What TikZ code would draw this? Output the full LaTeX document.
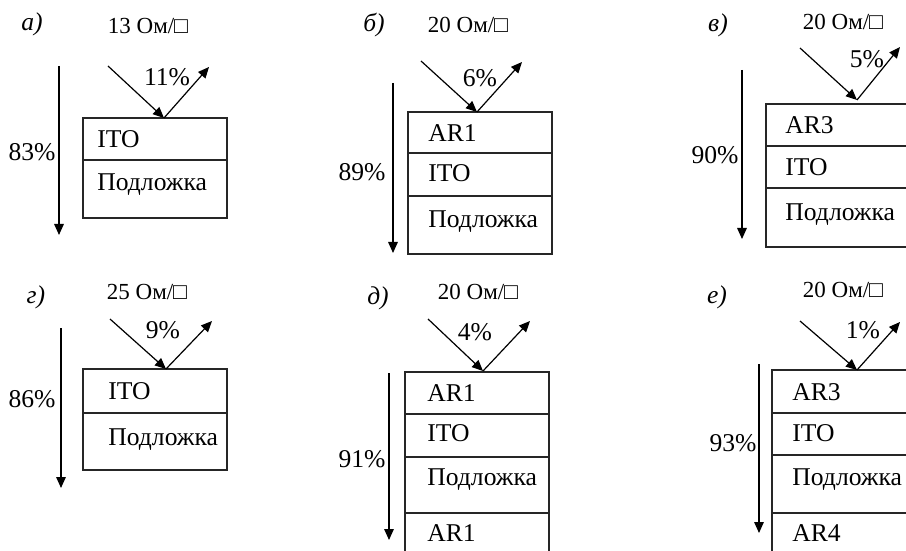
\documentclass[tikz,border=0pt]{standalone}
\usepackage{fontspec}
\setmainfont{Liberation Serif}
\usetikzlibrary{arrows.meta}
\tikzset{
  layer/.style={draw=black!85, line width=0.6pt, inner sep=0pt, outer sep=0pt, anchor=north west, minimum width=72pt},
  txt/.style={inner sep=0pt, font=\fontsize{12.8}{14}\selectfont},
  ltxt/.style={txt, anchor=west},
  ohm/.style={inner sep=0pt, font=\fontsize{11.5}{13}\selectfont},
  tag/.style={inner sep=0pt, font=\fontsize{12.8}{14}\selectfont\itshape},
  ray/.style={line width=0.6pt, -{Triangle[length=5.5pt,width=4.8pt]}},
}
\begin{document}
\begin{tikzpicture}[x=0.5pt,y=-0.5pt]
\useasboundingbox (0,0) rectangle (906,551);
\clip (0,0) rectangle (906,551);
\fill[white] (0,0) rectangle (906,551);

% ---------- panel a ----------
\node[tag] (ta) at (32,24) {а)};
\node[ohm] (oa) at (148,26) {13 Ом/□};
\node[layer, minimum height=21pt] (a1) at (83,118) {};
\node[layer, minimum height=29pt] (a2) at (a1.south west) {};
\node[ltxt] (a1t) at (97,139) {ITO};
\node[ltxt] (a2t) at (97,185) {Подложка};
\coordinate (a-src) at (108,66);
\coordinate (a-hit) at (164,118);
\coordinate (a-dst) at (209,67);
\draw[ray] (a-src) -- (a-hit);
\draw[ray] (a-hit) -- (a-dst);
\node[txt] (ra) at (167,77) {11\%};
\coordinate (a-top) at (59,66);
\coordinate (a-bot) at (59,235);
\draw[ray] (a-top) -- (a-bot);
\node[txt] (pa) at (32,152) {83\%};

% ---------- panel b ----------
\node[tag] (tb) at (374,25) {б)};
\node[ohm] (ob) at (468,25) {20 Ом/□};
\node[layer, minimum height=20.5pt] (b1) at (408,112) {};
\node[layer, minimum height=21.5pt] (b2) at (b1.south west) {};
\node[layer, minimum height=29pt] (b3) at (b2.south west) {};
\node[ltxt] (b1t) at (428,133) {AR1};
\node[ltxt] (b2t) at (428,173) {ITO};
\node[ltxt] (b3t) at (428,222) {Подложка};
\coordinate (b-src) at (421,61);
\coordinate (b-hit) at (477,112);
\coordinate (b-dst) at (522,62);
\draw[ray] (b-src) -- (b-hit);
\draw[ray] (b-hit) -- (b-dst);
\node[txt] (rb) at (480,78) {6\%};
\coordinate (b-top) at (393,83);
\coordinate (b-bot) at (393,253);
\draw[ray] (b-top) -- (b-bot);
\node[txt] (pb) at (362,172) {89\%};

% ---------- panel v ----------
\node[tag] (tv) at (718,25) {в)};
\node[ohm] (ov) at (843,22) {20 Ом/□};
\node[layer, minimum height=21pt] (v1) at (766,104) {};
\node[layer, minimum height=21pt] (v2) at (v1.south west) {};
\node[layer, minimum height=29.5pt] (v3) at (v2.south west) {};
\node[ltxt] (v1t) at (785,125) {AR3};
\node[ltxt] (v2t) at (785,167) {ITO};
\node[ltxt] (v3t) at (785,215) {Подложка};
\coordinate (v-src) at (800,48);
\coordinate (v-hit) at (857,100);
\coordinate (v-dst) at (900,47);
\draw[ray] (v-src) -- (v-hit);
\draw[ray] (v-hit) -- (v-dst);
\node[txt] (rv) at (867,59) {5\%};
\coordinate (v-top) at (742,70);
\coordinate (v-bot) at (742,239);
\draw[ray] (v-top) -- (v-bot);
\node[txt] (pv) at (715,155) {90\%};

% ---------- panel g ----------
\node[tag] (tg) at (36,297) {г)};
\node[ohm] (og) at (147,292) {25 Ом/□};
\node[layer, minimum height=22pt] (g1) at (83,369) {};
\node[layer, minimum height=28.5pt] (g2) at (g1.south west) {};
\node[ltxt] (g1t) at (108,391) {ITO};
\node[ltxt] (g2t) at (108,440) {Подложка};
\coordinate (g-src) at (110,319);
\coordinate (g-hit) at (166,369);
\coordinate (g-dst) at (212,321);
\draw[ray] (g-src) -- (g-hit);
\draw[ray] (g-hit) -- (g-dst);
\node[txt] (rg) at (163,330) {9\%};
\coordinate (g-top) at (61,328);
\coordinate (g-bot) at (61,488);
\draw[ray] (g-top) -- (g-bot);
\node[txt] (pg) at (32,399) {86\%};

% ---------- panel d ----------
\node[tag] (td) at (378,298) {д)};
\node[ohm] (od) at (478,292) {20 Ом/□};
\node[layer, minimum height=21pt] (d1) at (405,372) {};
\node[layer, minimum height=21.5pt] (d2) at (d1.south west) {};
\node[layer, minimum height=28pt] (d3) at (d2.south west) {};
\node[layer, minimum height=30pt] (d4) at (d3.south west) {};
\node[ltxt] (d1t) at (427,393) {AR1};
\node[ltxt] (d2t) at (427,433) {ITO};
\node[ltxt] (d3t) at (427,480) {Подложка};
\node[ltxt] (d4t) at (427,533) {AR1};
\coordinate (d-src) at (428,319);
\coordinate (d-hit) at (483,371);
\coordinate (d-dst) at (530,321);
\draw[ray] (d-src) -- (d-hit);
\draw[ray] (d-hit) -- (d-dst);
\node[txt] (rd) at (475,332) {4\%};
\coordinate (d-top) at (389,373);
\coordinate (d-bot) at (389,540);
\draw[ray] (d-top) -- (d-bot);
\node[txt] (pd) at (362,459) {91\%};

% ---------- panel e ----------
\node[tag] (te) at (717,297) {е)};
\node[ohm] (oe) at (843,290) {20 Ом/□};
\node[layer, minimum height=21.5pt] (e1) at (772,370) {};
\node[layer, minimum height=21pt] (e2) at (e1.south west) {};
\node[layer, minimum height=29pt] (e3) at (e2.south west) {};
\node[layer, minimum height=30pt] (e4) at (e3.south west) {};
\node[ltxt] (e1t) at (792,392) {AR3};
\node[ltxt] (e2t) at (792,433) {ITO};
\node[ltxt] (e3t) at (792,480) {Подложка};
\node[ltxt] (e4t) at (792,533) {AR4};
\coordinate (e-src) at (800,321);
\coordinate (e-hit) at (857,370);
\coordinate (e-dst) at (900,322);
\draw[ray] (e-src) -- (e-hit);
\draw[ray] (e-hit) -- (e-dst);
\node[txt] (re) at (863,330) {1\%};
\coordinate (e-top) at (759,364);
\coordinate (e-bot) at (759,533);
\draw[ray] (e-top) -- (e-bot);
\node[txt] (pe) at (733,443) {93\%};
\end{tikzpicture}
\end{document}
